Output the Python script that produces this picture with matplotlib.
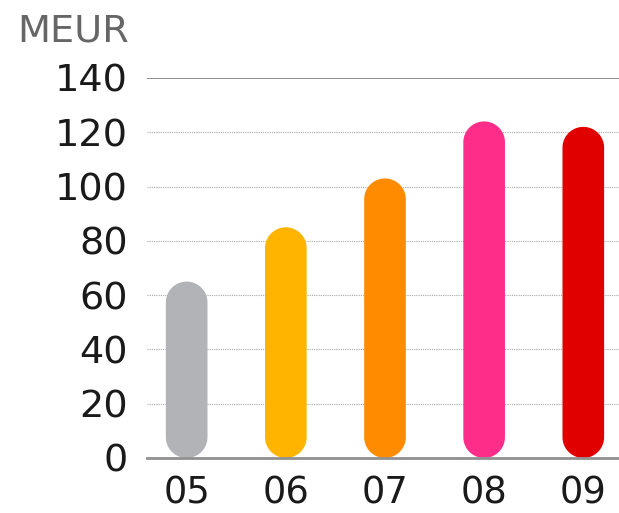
import numpy as np
import matplotlib
matplotlib.use("Agg")
import matplotlib.pyplot as plt
from matplotlib.patches import Polygon

categories = ["05", "06", "07", "08", "09"]
values = [65, 85, 103, 124, 122]
colors = ["#B1B3B6", "#FFB400", "#FF8C00", "#FF2D8A", "#E00000"]
yticks = [0, 20, 40, 60, 80, 100, 120, 140]
unit_label = "MEUR"

W, H, DPI = 619, 513, 100
fig = plt.figure(figsize=(W / DPI, H / DPI), dpi=DPI)
ax = fig.add_axes([147 / W, 1 - 458 / H, 1 - 147 / W, (458 - 78) / H])

xs = list(range(len(categories)))
bar_w = 0.42
xlo, xhi = -0.40, 4.36
ax.set_xlim(xlo, xhi)
ax.set_ylim(0, 140)

# grid lines
for t in yticks[1:-1]:
    ax.axhline(t, color="#a8a8a8", lw=0.8, ls=(0, (1, 1)), zorder=0)
ax.axhline(140, color="#7a7a7a", lw=1.2, zorder=0)
ax.axhline(0, color="#909090", lw=2.0, zorder=3, clip_on=False)

bars = ax.bar(xs, values, width=bar_w, color=colors)
# convert bars to pill shapes
ax_w_px = ax.get_position().width * W
ax_h_px = ax.get_position().height * H
x_per_px = (xhi - xlo) / ax_w_px
y_per_px = 140 / ax_h_px
aspect = y_per_px / x_per_px
t_bot = np.linspace(np.pi, 2 * np.pi, 40)
t_top = np.linspace(0, np.pi, 40)
for b in bars:
    x0, y0 = b.get_x(), b.get_y()
    w, h = b.get_width(), b.get_height()
    rx = w / 2
    ry = rx * aspect
    cx = x0 + rx
    bot = np.column_stack([cx + rx * np.cos(t_bot), y0 + ry + ry * np.sin(t_bot)])
    top = np.column_stack([cx + rx * np.cos(t_top), y0 + h - ry + ry * np.sin(t_top)])
    pts = np.vstack([bot, top])
    fc = b.get_facecolor()
    b.set_visible(False)
    ax.add_patch(Polygon(pts, closed=True, facecolor=fc, edgecolor="none", zorder=2))

for s in ax.spines.values():
    s.set_visible(False)

ax.set_yticks(yticks)
ax.set_yticklabels([str(t) for t in yticks])
ax.set_xticks(xs)
ax.set_xticklabels(categories)
ax.tick_params(axis="y", length=0, pad=14, labelsize=27.5, labelcolor="#1a1a1a")
ax.tick_params(axis="x", length=0, pad=12, labelsize=26.5, labelcolor="#1a1a1a")

fig.text(17 / W, 1 - 13 / H, unit_label, fontsize=27.5, color="#666666",
         ha="left", va="top")

fig.savefig("out.png", dpi=DPI)
